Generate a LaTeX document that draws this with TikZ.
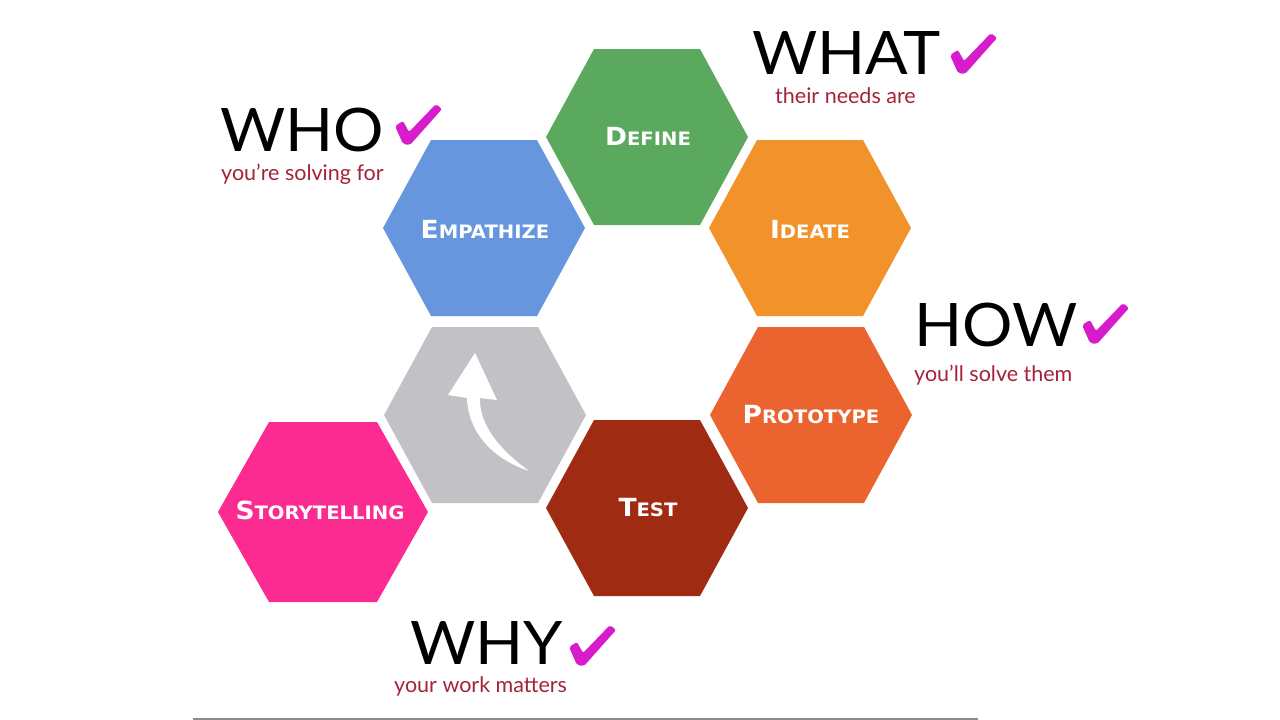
\documentclass[tikz,border=0pt]{standalone}
\usepackage{fontspec}
\setmainfont{Lato}
\newfontfamily\headfont{Lato}
\newfontfamily\labfont{DejaVu Sans}
\definecolor{cDefine}{HTML}{5AA95E}
\definecolor{cEmpath}{HTML}{6696DE}
\definecolor{cIdeate}{HTML}{F1922B}
\definecolor{cProto}{HTML}{EB632E}
\definecolor{cTest}{HTML}{9E2B12}
\definecolor{cGray}{HTML}{C2C1C5}
\definecolor{cStory}{HTML}{FC2B91}
\definecolor{cSub}{HTML}{A5233A}
\definecolor{cTick}{HTML}{D61CCB}
\definecolor{cRule}{HTML}{8C8C8C}
\newcommand\hexfill[3]{\fill[#1,scale=#3] (#2) ++(-101,0) -- ++(48,-88) -- ++(106,0) -- ++(48,88) -- ++(-48,88) -- ++(-106,0) -- cycle;}
\newcommand\smc[2]{\scalebox{1.06}[1]{{\fontsize{25}{25}\selectfont #1}{\fontsize{18.5}{18.5}\selectfont #2}}}
\newcommand\wide[1]{\scalebox{1.05}[1]{#1}}
\tikzset{
  hexlabel/.style={text=white,inner sep=0pt,font=\labfont\bfseries},
  heading/.style={anchor=base west,inner sep=0pt,text=black,font=\headfont\fontsize{60}{60}\selectfont},
  subhead/.style={anchor=base west,inner sep=0pt,text=cSub,font=\headfont\fontsize{21.5}{21.5}\selectfont},
  tick/.pic={\fill[cTick,rounded corners=2pt] (-11,-15) -- (-3,-20) -- (3,-9) -- (30,-37) -- (36,-32) -- (4,4) -- (-3,3) -- cycle;}
}
\begin{document}
\begin{tikzpicture}[x=1pt,y=-1pt]
\useasboundingbox[fill=white] (0,0) rectangle (1280,720);
% hexagon centres
\coordinate (pDefine) at (647,137);
\coordinate (pEmpath) at (484,228);
\coordinate (pIdeate) at (810,228);
\coordinate (pGray) at (485,415);
\coordinate (pProto) at (811,415);
\coordinate (pTest) at (647,508);
\coordinate (pStory) at (323,512);
\hexfill{cDefine}{pDefine}{1}
\hexfill{cEmpath}{pEmpath}{1}
\hexfill{cIdeate}{pIdeate}{1}
\hexfill{cGray}{pGray}{1}
\hexfill{cProto}{pProto}{1}
\hexfill{cTest}{pTest}{1}
\fill[cStory] (pStory) ++(-105,0) -- ++(51,-90) -- ++(108,0) -- ++(51,90) -- ++(-51,90) -- ++(-108,0) -- cycle;
% labels
\node[hexlabel] (define) at (648,136) {\smc{D}{EFINE}};
\node[hexlabel] (empath) at (485,229) {\smc{E}{MPATHIZE}};
\node[hexlabel] (ideate) at (810,229) {\smc{I}{DEATE}};
\node[hexlabel] (proto) at (811,415) {\smc{P}{ROTOTYPE}};
\node[hexlabel] (test) at (648,508) {\smc{T}{EST}};
\node[hexlabel] (story) at (320,510) {\smc{S}{TORYTELLING}};
% white arrow in the grey hexagon
\fill[white] (475,353) -- (497,400) -- (480,398)
  .. controls (479,425) and (500,450) .. (529,471)
  .. controls (490,458) and (468,430) .. (467,398)
  -- (448,395) -- cycle;
% headings
\node[heading] (who) at (220,151) {\wide{WHO}};
\node[subhead] (whosub) at (221,180) {you’re solving for};
\pic at (406,141) {tick};
\node[heading] (what) at (752,74) {\wide{WHAT}};
\node[subhead] (whatsub) at (775,103) {their needs are};
\pic at (961,70) {tick};
\node[heading] (how) at (914,346) {\wide{HOW}};
\node[subhead] (howsub) at (914,381) {you’ll solve them};
\pic at (1093,340) {tick};
\node[heading] (why) at (410,664) {\wide{WHY}};
\node[subhead] (whysub) at (394,692) {your work matters};
\pic at (580,662) {tick};
% bottom rule
\coordinate (r1) at (193,719);
\coordinate (r2) at (978,719);
\draw[cRule,line width=2pt] (r1) -- (r2);
\end{tikzpicture}
\end{document}
